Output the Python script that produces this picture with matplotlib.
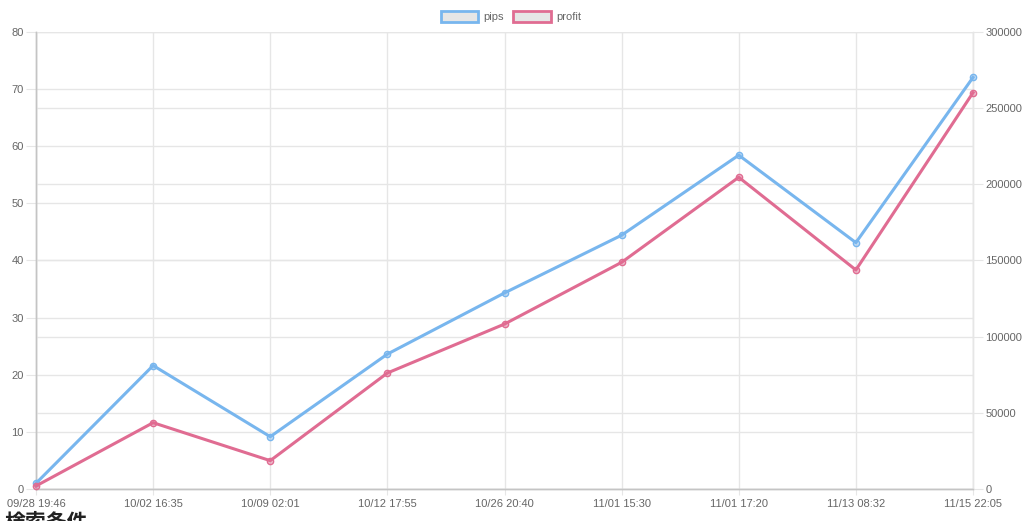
import matplotlib
matplotlib.use("Agg")
import matplotlib.pyplot as plt
from matplotlib.patches import Rectangle

labels = ["09/28 19:46", "10/02 16:35", "10/09 02:01", "10/12 17:55", "10/26 20:40",
          "11/01 15:30", "11/01 17:20", "11/13 08:32", "11/15 22:05"]
pips = [1.0, 21.6, 9.15, 23.6, 34.3, 44.4, 58.4, 43.1, 72.0]
profit = [2000, 43500, 18600, 76100, 108200, 148700, 204500, 143700, 260000]
left_ticks = [0, 10, 20, 30, 40, 50, 60, 70, 80]
right_ticks = [0, 50000, 100000, 150000, 200000, 250000, 300000]

BLUE = "#78b6ee"
RED = "#e06c92"
GRID = "#e6e6e6"
TXT = "#666666"

plt.rcParams['font.family'] = ['Liberation Sans', 'DejaVu Sans']

W, H = 1024, 521
fig = plt.figure(figsize=(W / 100, H / 100), dpi=100)
rect = [36 / W, 32 / H, 937 / W, 457.3 / H]
ax = fig.add_axes(rect)
ax2 = ax.twinx()

x = list(range(len(labels)))
ax.set_xlim(0, len(labels) - 1)
ax.set_ylim(0, 80)
ax2.set_ylim(0, 300000)

ax.set_yticks(left_ticks)
ax2.set_yticks(right_ticks)
ax.set_xticks(x)
ax.set_xticklabels(labels)

ax.grid(True, color=GRID, linewidth=1)
ax2.grid(True, axis='y', color=GRID, linewidth=1)
ax2.set_axisbelow(True)

for a in (ax, ax2):
    a.spines['top'].set_visible(False)
    for s in a.spines.values():
        s.set_color(GRID)
        s.set_linewidth(1)
ax.spines['left'].set_color('#c4c4c4')
ax.spines['bottom'].set_color('#c4c4c4')
ax2.spines['bottom'].set_color('#c4c4c4')
ax2.spines['left'].set_color('#c4c4c4')

ax.tick_params(axis='y', length=7, color=GRID, labelsize=8, labelcolor=TXT, pad=2)
ax2.tick_params(axis='y', length=7, color=GRID, labelsize=8, labelcolor=TXT, pad=2)
ax.tick_params(axis='x', length=4, color=GRID, labelsize=8, labelcolor=TXT, pad=3.5)

ax2.plot(x, pips, color=BLUE, linewidth=2.2, marker='o', markersize=4.5,
         markerfacecolor=(0.47, 0.71, 0.93, 0.45), markeredgecolor=BLUE,
         markeredgewidth=1, transform=ax.transData, zorder=5, clip_on=False)
ax2.plot(x, profit, color=RED, linewidth=2.2, marker='o', markersize=4.5,
         markerfacecolor=(0.88, 0.42, 0.57, 0.45), markeredgecolor=RED,
         markeredgewidth=1, zorder=6, clip_on=False)
ax2.set_ylim(0, 300000)

# legend
def legbox(x0, x1, col, txt, tx):
    fig.patches.append(Rectangle((x0 / W, 1 - 22 / H), (x1 - x0) / W, 11 / H,
                                 transform=fig.transFigure, facecolor='#e6e6e6',
                                 edgecolor=col, linewidth=2))
    fig.text(tx / W, 1 - 16.5 / H, txt, fontsize=8, color=TXT, va='center', ha='left')

legbox(441, 478, BLUE, "pips", 483)
legbox(513, 551, RED, "profit", 556)

fig.text(5 / W, 1 - 512 / H, "検索条件", fontsize=15, fontweight='bold',
         family=['Noto Sans CJK JP', 'DejaVu Sans'], va='top', ha='left', color='#222222')

fig.savefig("out.png", dpi=100)
